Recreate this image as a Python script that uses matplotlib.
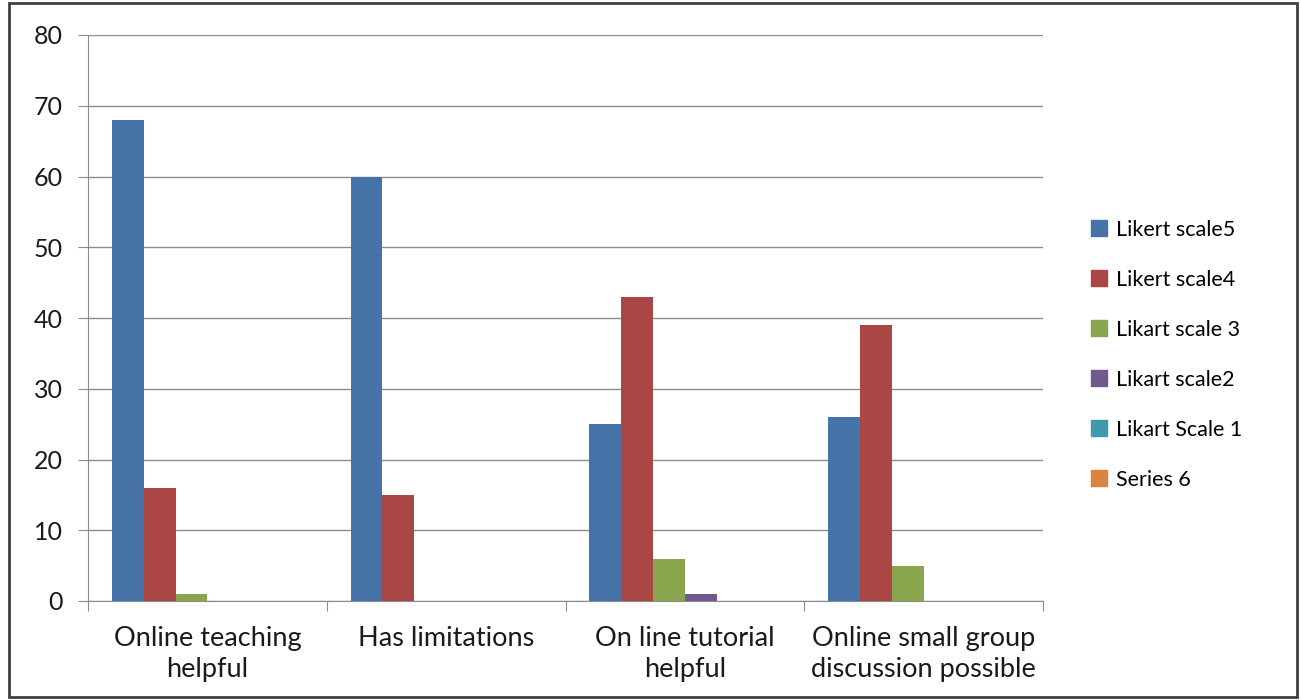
import matplotlib

matplotlib.use("Agg")
import matplotlib.pyplot as plt
import numpy as np
from matplotlib.patches import Rectangle

plt.rcParams["font.family"] = ["Lato", "DejaVu Sans"]

CATEGORIES = [
    "Online teaching\nhelpful",
    "Has limitations",
    "On line tutorial\nhelpful",
    "Online small group\ndiscussion possible",
]
SERIES = [
    "Likert scale5",
    "Likert scale4",
    "Likart scale 3",
    "Likart scale2",
    "Likart Scale 1",
    "Series 6",
]
VALUES = [
    [68, 60, 25, 26],
    [16, 15, 43, 39],
    [1, 0, 6, 5],
    [0, 0, 1, 0],
    [0, 0, 0, 0],
    [0, 0, 0, 0],
]
COLORS = ["#4572A7", "#AA4643", "#89A54E", "#71588F", "#4198AF", "#DB843D"]

W, H = 1301, 700
fig = plt.figure(figsize=(W / 100, H / 100), dpi=100)
ax = fig.add_axes([88 / W, 1 - 601 / H, (1043 - 88) / W, (601 - 35) / H])

bar_w = 1 / 7.5
x = np.arange(len(CATEGORIES))
for i, (name, vals, col) in enumerate(zip(SERIES, VALUES, COLORS)):
    offs = -0.5 + 0.75 * bar_w + i * bar_w
    ax.bar(x + offs, vals, width=bar_w, align="edge", color=col, label=name,
           linewidth=0, zorder=3)

ax.set_xlim(-0.5, len(CATEGORIES) - 0.5)
ax.set_ylim(0, 80)
ax.set_yticks(range(0, 81, 10))
ax.grid(axis="y", color="#8c8c8c", linewidth=1.0, zorder=0)
ax.set_axisbelow(True)

for s in ("top", "right"):
    ax.spines[s].set_visible(False)
ax.spines["left"].set_color("#8c8c8c")
ax.spines["bottom"].set_color("#8c8c8c")

ax.set_xticks(np.arange(-0.5, len(CATEGORIES), 1.0))
ax.set_xticklabels([])
ax.set_xticks(x, minor=True)
ax.set_xticklabels(CATEGORIES, minor=True, fontsize=19.5, color="#1a1a1a",
                   linespacing=1.3)
ax.tick_params(axis="x", which="major", length=7, color="#8c8c8c", direction="out")
ax.tick_params(axis="x", which="minor", length=0, pad=18)
ax.tick_params(axis="y", length=7, color="#8c8c8c", labelsize=18,
               labelcolor="#1a1a1a", pad=11)

handles = [Rectangle((0, 0), 1, 1, color=c) for c in COLORS]
fig.legend(handles, SERIES, loc="upper left", bbox_to_anchor=(1082 / W, 1 - 211 / H),
           frameon=False, fontsize=15.5, handlelength=0.78, handleheight=0.78,
           handletextpad=0.4, labelspacing=1.395, borderaxespad=0)

fig.patches.append(Rectangle((9 / W, 3 / H), (1297 - 9) / W, (697 - 3) / H,
                             transform=fig.transFigure, fill=False,
                             edgecolor="#404040", linewidth=2))

fig.savefig("out.png", dpi=100)
